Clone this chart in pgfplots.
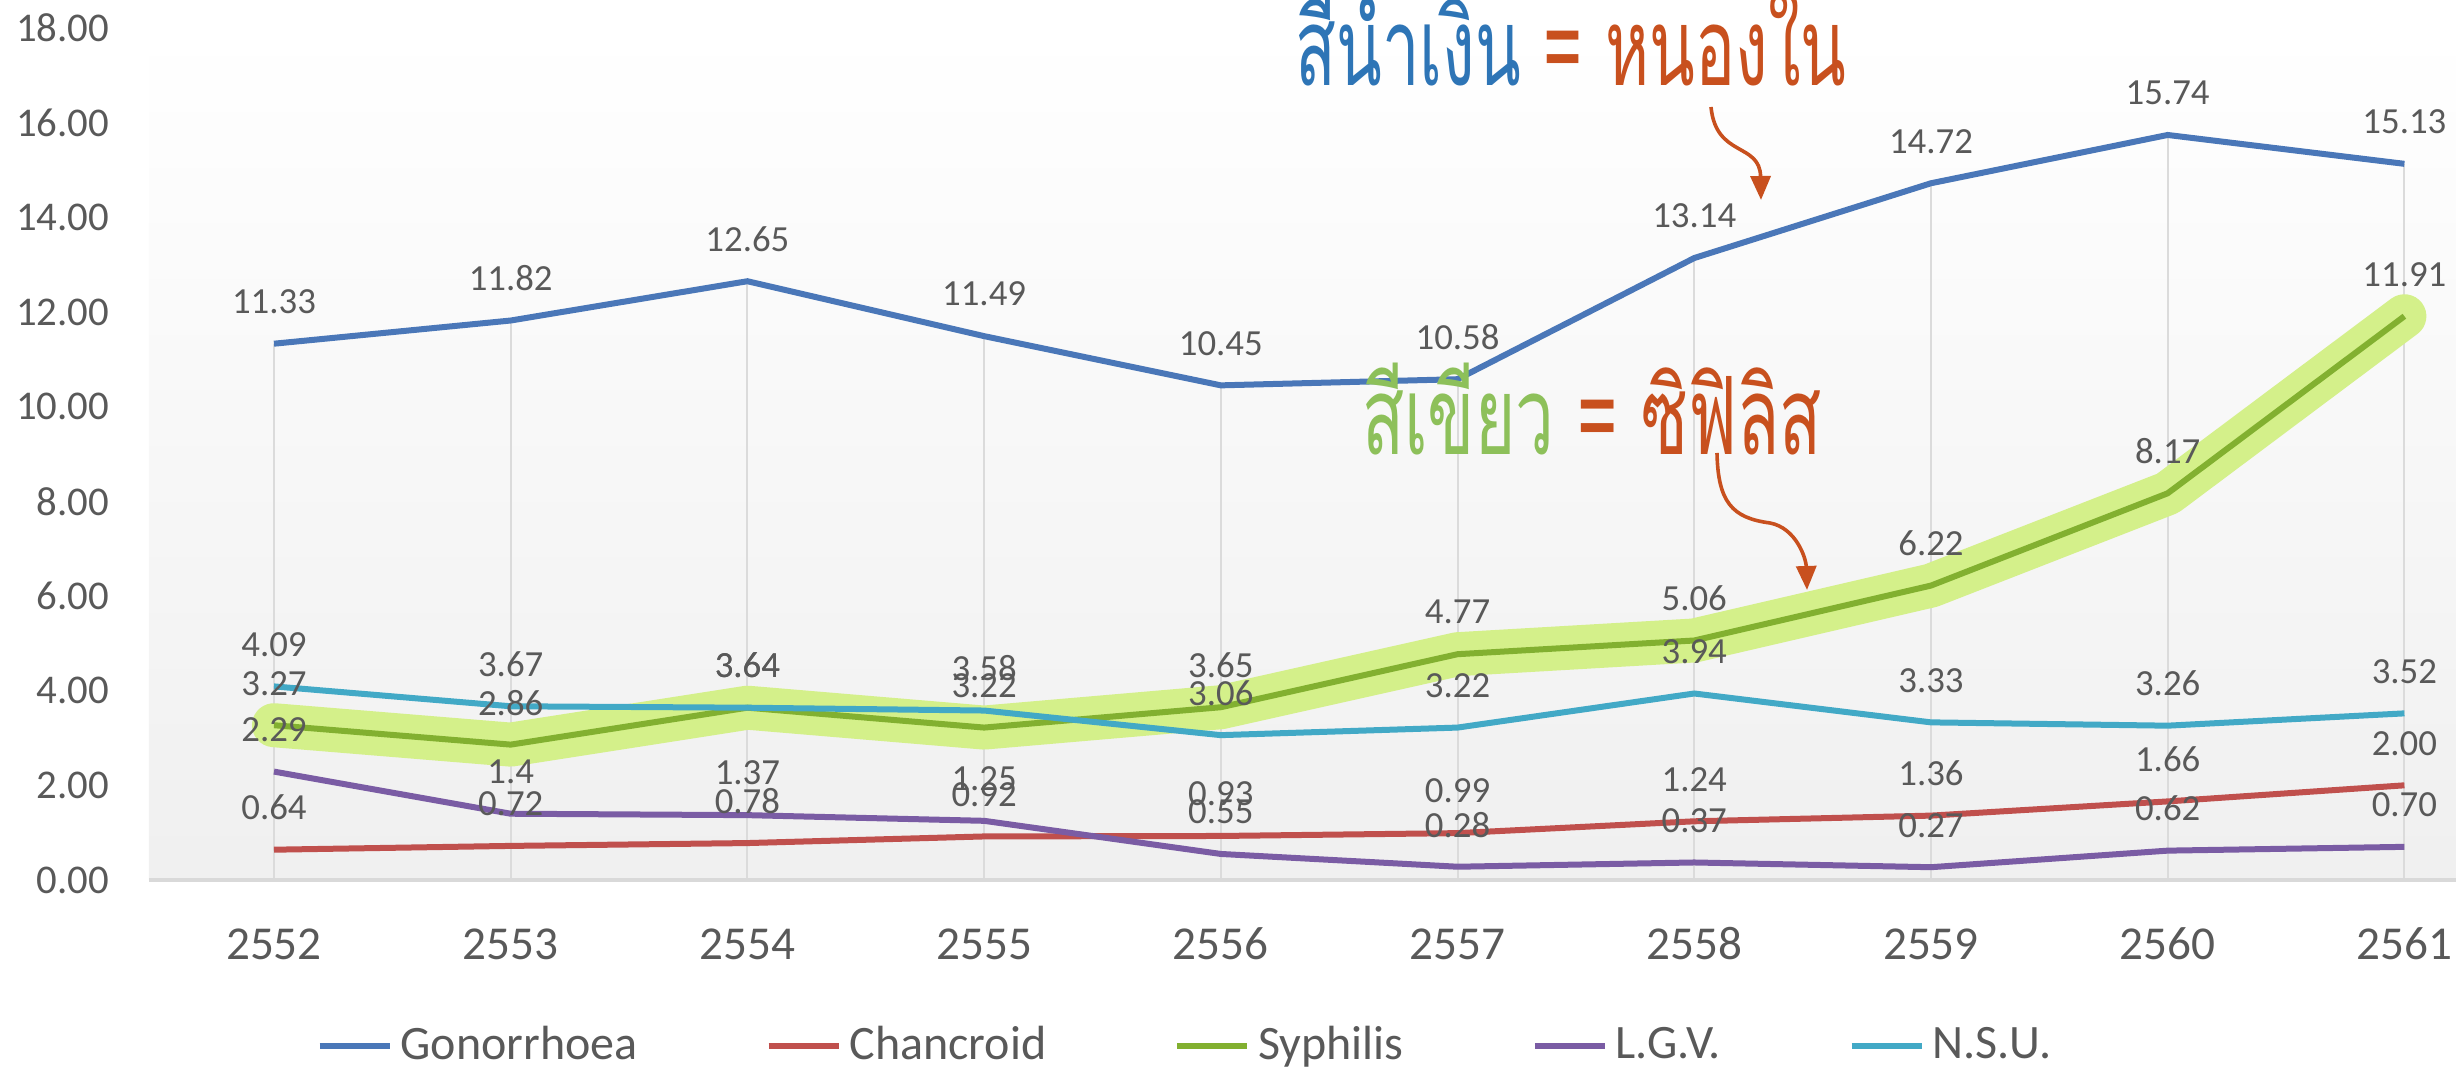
\documentclass[border=0pt]{standalone}
\usepackage{graphicx}
\usepackage{pgfplots}
\pgfplotsset{compat=1.18}
\usetikzlibrary{arrows.meta}
\usepackage{fontspec}
\setmainfont{Carlito}
\newfontfamily\thaifont[Script=Thai]{Loma}
\definecolor{cGon}{HTML}{4A77B8}
\definecolor{cCha}{HTML}{C0504D}
\definecolor{cSyp}{HTML}{82B030}
\definecolor{cLgv}{HTML}{7A5CA4}
\definecolor{cNsu}{HTML}{42A9C6}
\definecolor{band}{HTML}{D4F08A}
\definecolor{tblue}{HTML}{2E75B6}
\definecolor{tred}{HTML}{C8501E}
\definecolor{tgreen}{HTML}{8DC05A}
\definecolor{lbl}{HTML}{595959}
\pgfplotsset{
  lab/.style={nodes near coords, point meta=explicit symbolic,
    every node near coord/.append style={font=\fontsize{9.2}{11}\selectfont, text=lbl, anchor=center, yshift=10.5pt}},
}
\begin{document}
\begin{tikzpicture}
\begin{axis}[
  at={(37.25pt,47.5pt)}, anchor=south west,
  scale only axis, width=576.75pt, height=213pt,
  xmin=-0.528, xmax=9.218, ymin=0, ymax=18,
  xtick={0,1,2,3,4,5,6,7,8,9},
  xticklabels={2552,2553,2554,2555,2556,2557,2558,2559,2560,2561},
  ytick={0,2,4,6,8,10,12,14,16,18},
  major tick length=0pt,
  axis line style={draw=none},
  clip=false,
  axis background/.style={shade, top color=white, bottom color=black!6},
  yticklabel style={/pgf/number format/fixed, /pgf/number format/fixed zerofill,
    /pgf/number format/precision=2, /pgf/number format/assume math mode=true,
    font=\fontsize{10.2}{12}\selectfont, text=lbl, anchor=east, inner sep=0pt, xshift=-9.75pt},
  xticklabel style={font=\fontsize{11.8}{14}\selectfont, text=lbl, anchor=center, inner sep=0pt, yshift=-16pt},
  legend style={at={(0.4504,-0.1948)}, anchor=center, draw=none, fill=none,
    legend columns=5, font=\fontsize{12}{14}\selectfont, text=lbl,
    /tikz/every even column/.append style={column sep=30pt}},
  legend image code/.code={\draw[#1, line width=1.5pt] (0pt,0pt) -- (17.5pt,0pt);},
  legend cell align=left,
]
% drop lines
\addplot[ycomb, draw=black!14, line width=0.5pt, forget plot, no marks] coordinates {
(0,11.33) (1,11.82) (2,12.65) (3,11.49) (4,10.45) (5,10.58) (6,13.14) (7,14.72) (8,15.74) (9,15.13)};
\draw[black!15, line width=1.2pt] (rel axis cs:0,0) -- (rel axis cs:1,0);
% highlight band
\addplot[band, line width=11pt, line cap=round, line join=round, forget plot, no marks] coordinates {
(0,3.27) (1,2.86) (2,3.64) (3,3.22) (4,3.65) (5,4.77) (6,5.06) (7,6.22) (8,8.17) (9,11.91)};
\addplot[cGon, line width=1.5pt, no marks, lab] coordinates {
(0,11.33) [11.33] (1,11.82) [11.82] (2,12.65) [12.65] (3,11.49) [11.49] (4,10.45) [10.45]
(5,10.58) [10.58] (6,13.14) [13.14] (7,14.72) [14.72] (8,15.74) [15.74] (9,15.13) [15.13]};
\addlegendentry{Gonorrhoea}
\addplot[cCha, line width=1.5pt, no marks, lab] coordinates {
(0,0.64) [0.64] (1,0.72) [0.72] (2,0.78) [0.78] (3,0.92) [0.92] (4,0.93) [0.93]
(5,0.99) [0.99] (6,1.24) [1.24] (7,1.36) [1.36] (8,1.66) [1.66] (9,2.00) [2.00]};
\addlegendentry{Chancroid}
\addplot[cSyp, line width=1.5pt, no marks, lab] coordinates {
(0,3.27) [3.27] (1,2.86) [2.86] (2,3.64) [3.64] (3,3.22) [3.22] (4,3.65) [3.65]
(5,4.77) [4.77] (6,5.06) [5.06] (7,6.22) [6.22] (8,8.17) [8.17] (9,11.91) [11.91]};
\addlegendentry{Syphilis}
\addplot[cLgv, line width=1.5pt, no marks, lab] coordinates {
(0,2.29) [2.29] (1,1.4) [1.4] (2,1.37) [1.37] (3,1.25) [1.25] (4,0.55) [0.55]
(5,0.28) [0.28] (6,0.37) [0.37] (7,0.27) [0.27] (8,0.62) [0.62] (9,0.70) [0.70]};
\addlegendentry{L.G.V.}
\addplot[cNsu, line width=1.5pt, no marks, lab] coordinates {
(0,4.09) [4.09] (1,3.67) [3.67] (2,3.64) [3.64] (3,3.58) [3.58] (4,3.06) [3.06]
(5,3.22) [3.22] (6,3.94) [3.94] (7,3.33) [3.33] (8,3.26) [3.26] (9,3.52) [3.52]};
\addlegendentry{N.S.U.}
\end{axis}
\node[font=\thaifont\fontsize{27}{30}\selectfont, anchor=center, inner sep=0pt] at (392.75pt,260.3pt)
  {\scalebox{0.62}[1]{\textcolor{tblue}{สีน้ำเงิน} \textcolor{tred}{= หนองใน}}};
\node[font=\thaifont\fontsize{27}{30}\selectfont, anchor=center, inner sep=0pt] at (398pt,165.2pt)
  {\scalebox{0.64}[1]{\textcolor{tgreen}{สีเขียว} \textcolor{tred}{= ซิฟิลิส}}};
\draw[tred, line width=0.9pt, -{Triangle[length=6pt,width=5pt]}]
  (427.75pt,240.75pt) .. controls (429pt,228pt) and (440pt,232pt) .. (440.25pt,217.5pt);
\draw[tred, line width=0.9pt, -{Triangle[length=6pt,width=5pt]}]
  (429.25pt,154.25pt) .. controls (429.5pt,142pt) and (433pt,138pt) .. (442.5pt,136.75pt)
  .. controls (449pt,135.5pt) and (451.5pt,128pt) .. (451.75pt,120pt);
\pgfresetboundingbox
\path[use as bounding box] (0,0) rectangle (614pt,267.5pt);
\end{tikzpicture}
\end{document}
